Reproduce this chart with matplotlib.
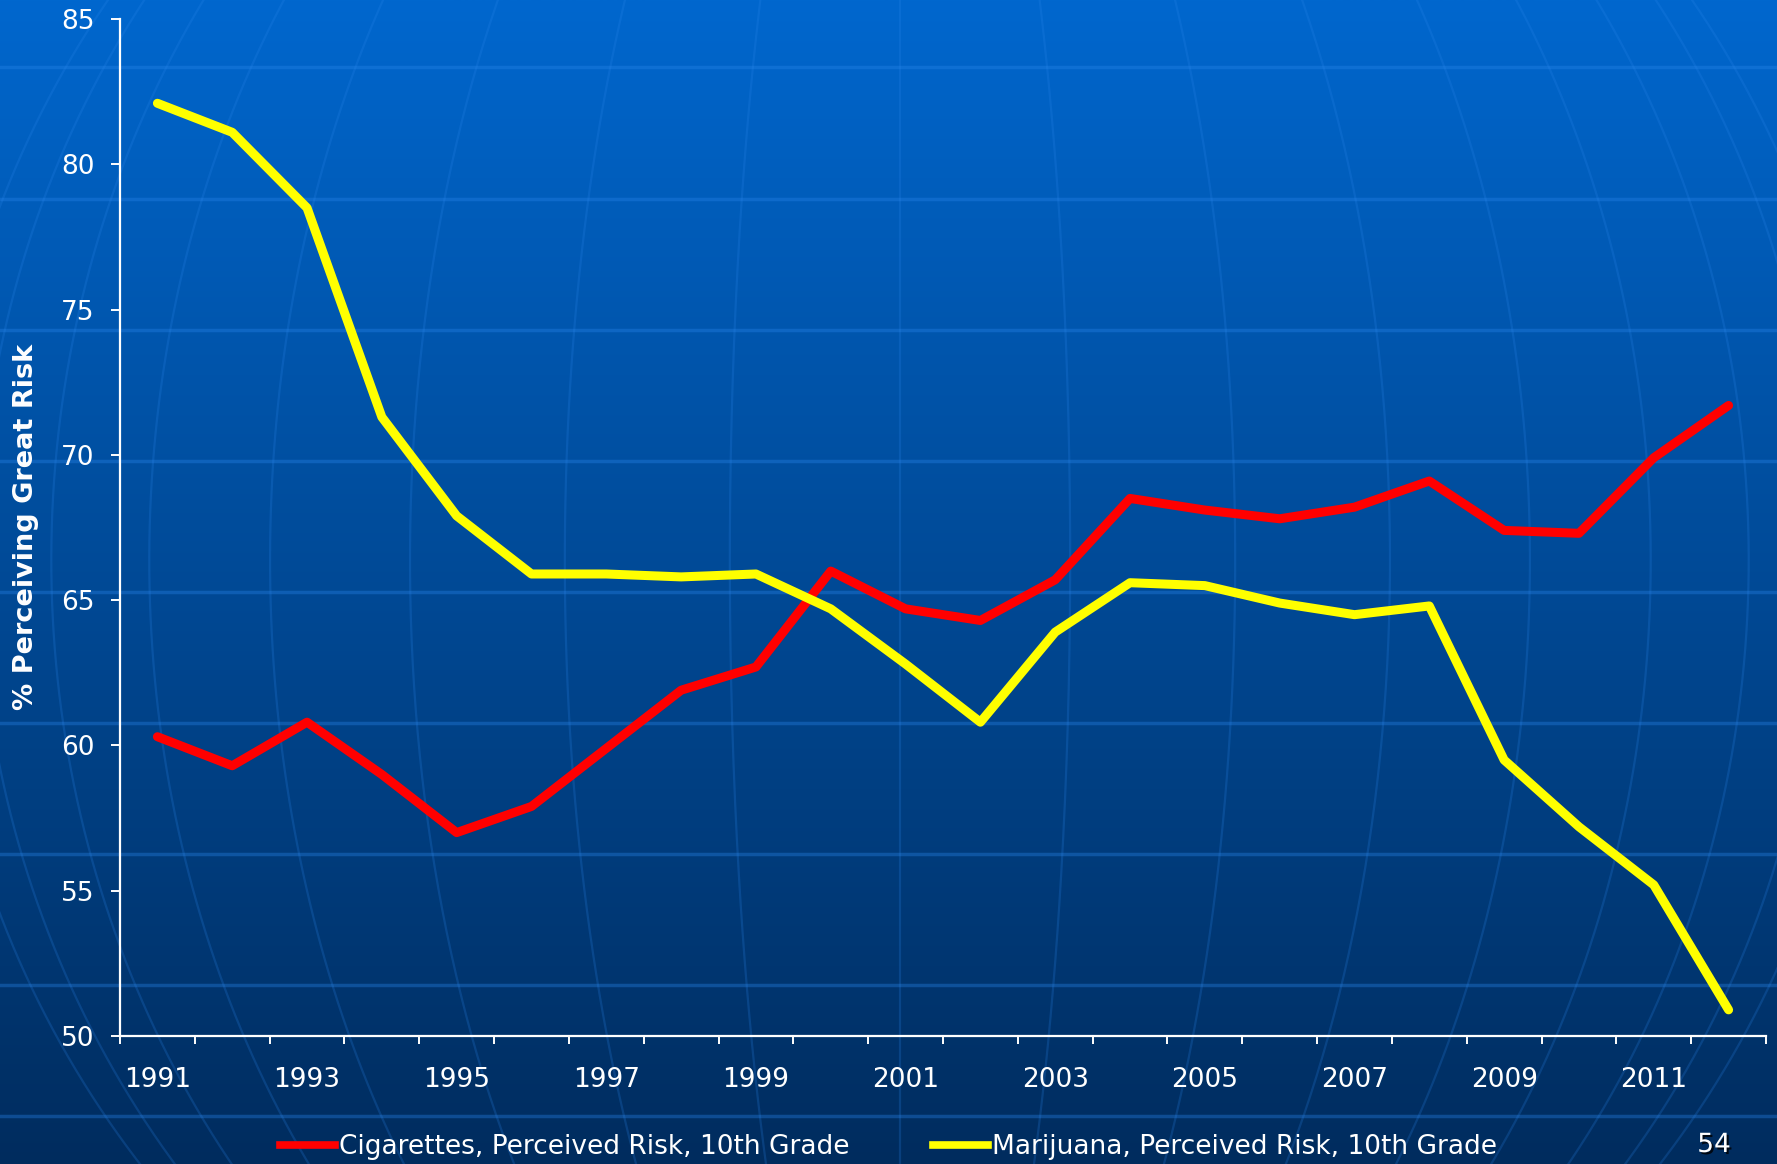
import numpy as np
import matplotlib
matplotlib.use("Agg")
import matplotlib.pyplot as plt
from matplotlib.lines import Line2D
import matplotlib.patheffects as pe

years = list(range(1991, 2013))
cigarettes = [60.3, 59.3, 60.8, 59.0, 57.0, 57.9, 59.9, 61.9, 62.7, 66.0, 64.7,
              64.3, 65.7, 68.5, 68.1, 67.8, 68.2, 69.1, 67.4, 67.3, 69.9, 71.7]
marijuana = [82.1, 81.1, 78.5, 71.3, 67.9, 65.9, 65.9, 65.8, 65.9, 64.7, 62.8,
             60.8, 63.9, 65.6, 65.5, 64.9, 64.5, 64.8, 59.5, 57.2, 55.2, 50.9]
year_labels = [str(y) for y in range(1991, 2013, 2)]
y_ticks = [50, 55, 60, 65, 70, 75, 80, 85]
series_names = ["Cigarettes, Perceived Risk, 10th Grade",
                "Marijuana, Perceived Risk, 10th Grade"]

W, H = 1777, 1164
fig = plt.figure(figsize=(W / 100, H / 100), dpi=100)

# ---- background: gradient + globe grid ----
bg = fig.add_axes([0, 0, 1, 1], zorder=0)
bg.set_xlim(0, W)
bg.set_ylim(H, 0)
bg.axis("off")
top = np.array([0, 103, 206]) / 255
bot = np.array([0, 44, 94]) / 255
t = np.linspace(0, 1, 400)[:, None]
grad = top[None, :] * (1 - t) + bot[None, :] * t
grad = np.repeat(grad[:, None, :], 2, axis=1)
bg.imshow(grad, extent=[0, W, H, 0], aspect="auto", zorder=0)
for yy in [67, 199, 330, 461, 592, 723, 854, 985, 1116]:
    bg.axhline(yy, color="#2a86ec", alpha=0.35, lw=2.5, zorder=1)
cx, cy, R = 900, 560, 980
lat = np.linspace(-np.pi / 2, np.pi / 2, 400)
for lon_deg in range(-80, 81, 10):
    lon = np.radians(lon_deg)
    xs = cx + R * np.sin(lon) * np.cos(lat)
    ys = cy - R * np.sin(lat)
    bg.plot(xs, ys, color="#2a86ec", alpha=0.22, lw=1.6, zorder=1)

# ---- main chart ----
ax = fig.add_axes([120 / W, 1 - 1036 / H, (1766 - 120) / W, (1036 - 19) / H], zorder=2)
ax.patch.set_alpha(0)
ax.plot(years, cigarettes, color="#ff0000", lw=6.5, solid_capstyle="round",
        solid_joinstyle="round", zorder=3)
ax.plot(years, marijuana, color="#ffff00", lw=6.5, solid_capstyle="round",
        solid_joinstyle="round", zorder=3)
ax.set_xlim(years[0] - 0.5, years[-1] + 0.5)
ax.set_ylim(50, 85)
ax.set_yticks(y_ticks)
ax.set_yticklabels([str(v) for v in y_ticks])
ax.set_xticks(list(range(1991, 2013, 2)))
ax.set_xticklabels(year_labels)
ax.set_xticks(np.arange(years[0] - 0.5, years[-1] + 0.6, 1.0), minor=True)
for s in ["top", "right"]:
    ax.spines[s].set_visible(False)
for s in ["left", "bottom"]:
    ax.spines[s].set_color("white")
    ax.spines[s].set_linewidth(1.6)
ax.tick_params(axis="y", colors="white", labelsize=19, length=6.5, width=1.4,
               pad=12, direction="out")
ax.tick_params(axis="x", which="major", colors="white", labelsize=19, length=0, pad=22)
ax.tick_params(axis="x", which="minor", colors="white", length=6, width=1.4, direction="out")

fig.text(26 / W, 1 - 527 / H, "% Perceiving Great Risk", rotation=90, color="white",
         fontsize=19.5, fontweight="bold", ha="center", va="center")

handles = [Line2D([], [], color="#ff0000", lw=5.5),
           Line2D([], [], color="#ffff00", lw=5.5)]
leg = fig.legend(handles, series_names, loc="center", bbox_to_anchor=(0.5, 1 - 1147 / H),
                 ncol=2, frameon=False, fontsize=19, handlelength=2.05, handletextpad=0.15,
                 columnspacing=3.2, labelcolor="white", borderaxespad=0, borderpad=0)

fig.text(1714 / W, 1 - 1145 / H, "54", color="white", fontsize=19, ha="center", va="center",
         path_effects=[pe.withSimplePatchShadow(offset=(1.5, -1.5), shadow_rgbFace="black", alpha=0.8)])

fig.savefig("out.png", dpi=100)
